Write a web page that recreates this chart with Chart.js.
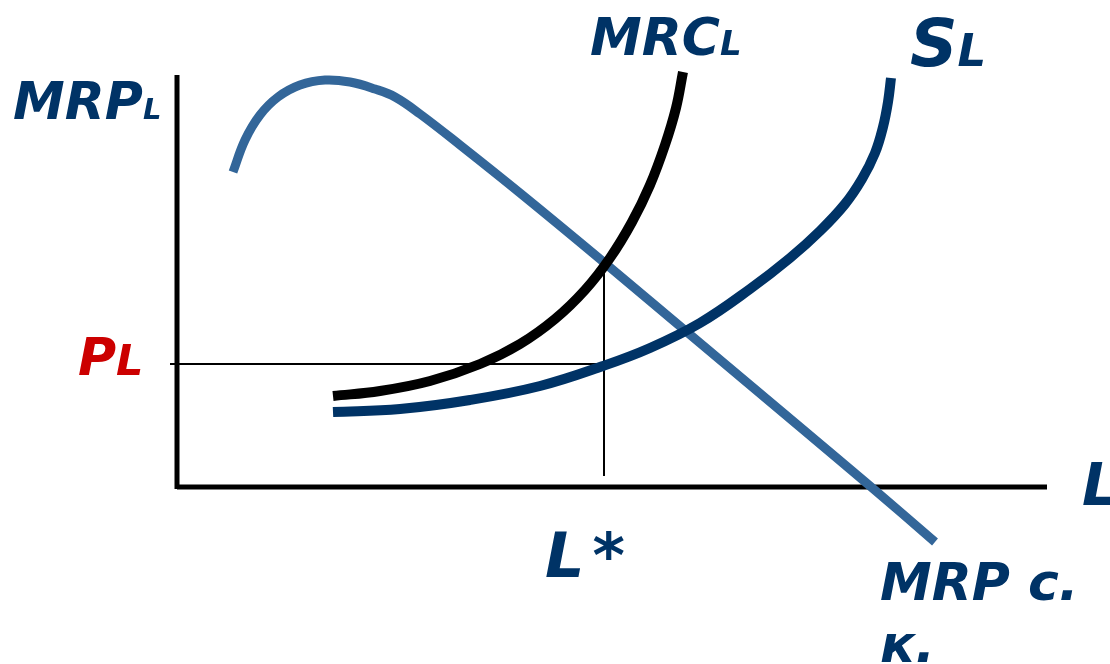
<!DOCTYPE html>
<html>
<head>
<meta charset="utf-8">
<script src="https://cdn.jsdelivr.net/npm/chart.js@4"></script>
<style>
html,body{margin:0;padding:0;background:#fff;}
#wrap{width:1110px;height:664px;position:relative;}
</style>
</head>
<body>
<div id="wrap"><canvas id="c"></canvas></div>
<script>
// Labour quantity (x) and price (y), origin at the axes corner
const mrpX = [56, 68, 83, 101, 123, 148, 173, 198, 218, 243, 283, 343, 423, 523, 623, 693, 758];
const mrpY = [315, 347, 372, 390, 402, 407, 405, 398, 390, 373, 342, 294, 228, 144, 60, 1, -55];

const mrcX = [156, 203, 253, 303, 343, 378, 408, 433, 455, 473, 488, 499, 506];
const mrcY = [91, 96, 106, 123, 143, 168, 197, 229, 265, 302, 342, 379, 415];

const slX = [156, 223, 293, 363, 426, 473, 523, 573, 613, 643, 668, 685, 698, 706, 711, 714];
const slY = [75, 78, 87, 101, 121, 139, 164, 198, 229, 256, 283, 308, 334, 360, 385, 409];

const yAxisX = [0, 0];
const yAxisY = [-2, 412];
const xAxisX = [0, 870];
const xAxisY = [0, 0];

const priceLevel = 123;   // P_L
const labourStar = 427;   // L*
const plLineX = [-7, labourStar];
const lsLineY = [11, 225];

function pts(xs, ys){ return xs.map((x,i)=>({x:x, y:ys[i]})); }

const NAVY = '#003366';
const FONT = '"DejaVu Sans", sans-serif';

// text annotations: [main, second part, x, y, mainSize, secondSize, colour, gap]
const labels = [
  ['MRP', 'L', -164, 368, 52, 29, NAVY, 0],
  ['MRC', 'L', 413, 432, 52, 34, NAVY, 0],
  ['S', 'L', 733, 421, 66, 45, NAVY, 0],
  ['P', 'L', -99, 112, 52, 43, '#cc0000', 0],
  ['L', '*', 368, -90, 62, 62, NAVY, 8],
  ['L', '', 905, -18, 58, 0, NAVY, 0],
  ['MRP с.', '', 703, -113, 52, 0, NAVY, 0],
  ['к.', '', 703, -175, 52, 0, NAVY, 0]
];

const textPlugin = {
  id: 'texts',
  afterDatasetsDraw(chart){
    const ctx = chart.ctx;
    const xs = chart.scales.x, ys = chart.scales.y;
    ctx.save();
    ctx.textAlign = 'left';
    ctx.textBaseline = 'alphabetic';
    labels.forEach(l => {
      const px = xs.getPixelForValue(l[2]);
      const py = ys.getPixelForValue(l[3]);
      ctx.fillStyle = l[6];
      ctx.font = 'italic bold ' + l[4] + 'px ' + FONT;
      ctx.fillText(l[0], px, py);
      if (l[1]) {
        const w = ctx.measureText(l[0]).width;
        ctx.font = 'italic bold ' + l[5] + 'px ' + FONT;
        ctx.fillText(l[1], px + w + l[7], py);
      }
    });
    ctx.restore();
  }
};

const line = (data, color, width, order) => ({
  data: data, borderColor: color, borderWidth: width, showLine: true,
  pointRadius: 0, fill: false, tension: 0.4,
  borderCapStyle: 'butt', borderJoinStyle: 'round', order: order
});

new Chart(document.getElementById('c'), {
  type: 'scatter',
  data: {
    datasets: [
      line(pts(mrcX, mrcY), '#000000', 10, 1),
      line(pts(slX, slY), NAVY, 10, 2),
      line(pts(mrpX, mrpY), '#336699', 9, 3),
      line(pts(yAxisX, yAxisY), '#000000', 5, 4),
      line(pts(xAxisX, xAxisY), '#000000', 5, 4),
      line(pts(plLineX, [priceLevel, priceLevel]), '#000000', 2, 5),
      line(pts([labourStar, labourStar], lsLineY), '#000000', 2, 5)
    ]
  },
  options: {
    responsive: true,
    maintainAspectRatio: false,
    animation: false,
    layout: { padding: 0 },
    plugins: { legend: { display: false }, tooltip: { enabled: false } },
    scales: {
      x: { type: 'linear', min: -177, max: 933, display: false },
      y: { type: 'linear', min: -177, max: 487, display: false }
    }
  },
  plugins: [textPlugin]
});
</script>
</body>
</html>
